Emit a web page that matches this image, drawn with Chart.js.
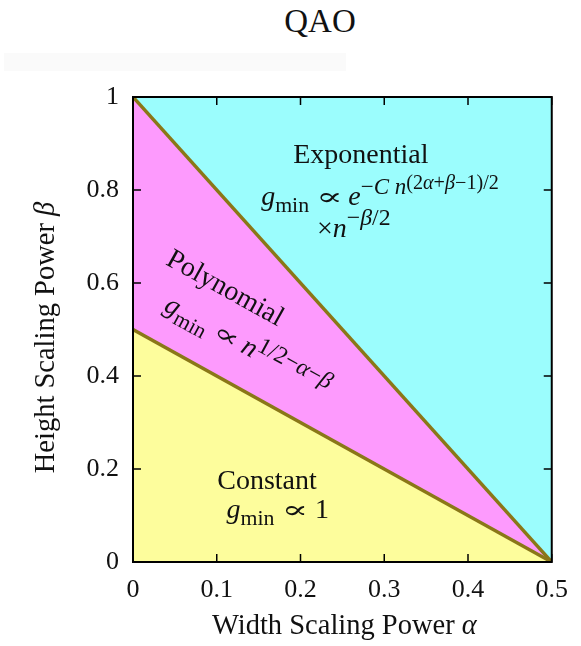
<!DOCTYPE html>
<html>
<head>
<meta charset="utf-8">
<script src="https://cdn.jsdelivr.net/npm/chart.js@4.4.1/dist/chart.umd.min.js"></script>
<style>
  html, body { margin: 0; padding: 0; background: #fff; }
  #wrap { position: relative; width: 581px; height: 646px; }
  #title { position: absolute; left: 220px; width: 200px; top: 3px; text-align: center;
           font-family: "Liberation Serif", serif; font-size: 33px; color: #111; }
  #band { position: absolute; left: 4px; top: 53px; width: 342px; height: 18px; background: rgba(0,0,0,0.018); }
  canvas { position: absolute; left: 0; top: 0; }
</style>
</head>
<body>
<div id="wrap">
  <div id="band"></div>
  <div id="title">QAO</div>
  <canvas id="c" width="581" height="646"></canvas>
</div>
<script>
// ---- data ----
const alphaPoints = [0, 0.5];               // width scaling power α at the boundary ends
const constPolyBoundary = [0.5, 0];         // β where constant meets polynomial
const polyExpBoundary = [1, 0];             // β where polynomial meets exponential
const topEdge = [1, 1];                     // top of the plotted range
const xTickValues = [0, 0.1, 0.2, 0.3, 0.4, 0.5];
const xTickLabels = ["0", "0.1", "0.2", "0.3", "0.4", "0.5"];
const yTickValues = [0, 0.2, 0.4, 0.6, 0.8, 1];
const yTickLabels = ["0", "0.2", "0.4", "0.6", "0.8", "1"];
const xAxisTitle = [["Width Scaling Power ", "r"], ["α", "i"]];
const yAxisTitle = [["Height Scaling Power ", "r"], ["β", "i"]];
const regionNames = ["Constant", "Polynomial", "Exponential"];

const FONT = '"Liberation Serif", "DejaVu Serif", serif';
const MATHFONT = '"DejaVu Serif", serif';
const colors = { cyan: "#9bfdfd", magenta: "#fd9afd", yellow: "#fdfd9c", line: "#8a7717" };

const pts = (ys) => alphaPoints.map((a, i) => ({ x: a, y: ys[i] }));

function fontOf(style, px) {
  if (style === "m") return px + "px " + MATHFONT;
  return (style === "i" ? "italic " : "") + px + "px " + FONT;
}

// segs: [text, style, scale, rise, xstretch]
function drawRich(ctx, segs, x, y, base, align) {
  let w = 0;
  const widths = segs.map(s => { ctx.font = fontOf(s[1], base * (s[2] || 1)); const m = ctx.measureText(s[0]).width * (s[4] || 1); w += m; return m; });
  let cx = align === "center" ? x - w / 2 : (align === "right" ? x - w : x);
  ctx.textBaseline = "alphabetic";
  ctx.textAlign = "left";
  segs.forEach((s, i) => {
    ctx.font = fontOf(s[1], base * (s[2] || 1));
    ctx.save();
    ctx.translate(cx, y - (s[3] || 0));
    ctx.scale(s[4] || 1, 1);
    ctx.fillText(s[0], 0, 0);
    ctx.restore();
    cx += widths[i];
  });
}

const PROP = ["∝", "m", 0.88, 0, 1.6];

// annotation positions in data coordinates
const annotations = [
  { x: 0.272, y: 0.858, size: 28, align: "center", angle: 0, segs: [[regionNames[2], "r"]] },
  { x: 0.153, y: 0.768, size: 28, align: "left", angle: 0, segs: [
      ["g", "i"], ["min", "r", 0.78, -7], [" ", "r"], PROP, [" ", "r", 0.8], ["e", "i"],
      ["−", "r", 0.82, 11], ["C", "i", 0.82, 11], [" ", "r", 0.82, 11], ["n", "i", 0.82, 11],
      ["(2", "r", 0.72, 16], ["α", "i", 0.72, 16], ["+", "r", 0.72, 16], ["β", "i", 0.72, 16], ["−1)/2", "r", 0.72, 16]] },
  { x: 0.2197, y: 0.699, size: 28, align: "left", angle: 0, segs: [
      ["×", "r"], ["n", "i"], ["−", "r", 0.85, 12], ["β", "i", 0.85, 12], ["/2", "r", 0.85, 12]] },
  { x: 0.038, y: 0.641, size: 28, align: "left", angle: 29, segs: [[regionNames[1], "r"]] },
  { x: 0.0356, y: 0.542, size: 28, align: "left", angle: 28.5, segs: [
      ["g", "i"], ["min", "r", 0.78, -7], [" ", "r"], PROP, [" ", "r", 0.8], ["n", "i"],
      ["1/2−", "r", 0.85, 9], ["α", "i", 0.85, 9], ["−", "r", 0.85, 9], ["β", "i", 0.85, 9]] },
  { x: 0.160, y: 0.157, size: 28, align: "center", angle: 0, segs: [[regionNames[0], "r"]] },
  { x: 0.1116, y: 0.0946, size: 28, align: "left", angle: 0, segs: [
      ["g", "i"], ["min", "r", 0.78, -7], [" ", "r"], PROP, [" 1", "r"]] }
];

const decor = {
  id: "decor",
  afterDatasetsDraw(chart) {
    const { ctx, chartArea: a, scales: { x, y } } = chart;
    ctx.save();
    ctx.fillStyle = "#111";
    annotations.forEach(an => {
      const px = x.getPixelForValue(an.x), py = y.getPixelForValue(an.y);
      ctx.save();
      ctx.translate(px, py);
      ctx.rotate(an.angle * Math.PI / 180);
      drawRich(ctx, an.segs, 0, 0, an.size, an.align);
      ctx.restore();
    });
    // frame
    ctx.strokeStyle = "#000";
    ctx.lineWidth = 2;
    ctx.strokeRect(a.left, a.top, a.right - a.left, a.bottom - a.top);
    // inward ticks on all four sides
    ctx.lineWidth = 1.5;
    const tl = 8;
    ctx.beginPath();
    xTickValues.forEach(v => {
      const p = x.getPixelForValue(v);
      ctx.moveTo(p, a.bottom); ctx.lineTo(p, a.bottom - tl);
      ctx.moveTo(p, a.top); ctx.lineTo(p, a.top + tl);
    });
    yTickValues.forEach(v => {
      const p = y.getPixelForValue(v);
      ctx.moveTo(a.left, p); ctx.lineTo(a.left + tl, p);
      ctx.moveTo(a.right, p); ctx.lineTo(a.right - tl, p);
    });
    ctx.stroke();
    // axis titles
    ctx.fillStyle = "#111";
    drawRich(ctx, xAxisTitle.map(s => [s[0], s[1]]), (a.left + a.right) / 2 + 2, 634, 28.5, "center");
    ctx.save();
    ctx.translate(54, (a.top + a.bottom) / 2 + 8);
    ctx.rotate(-Math.PI / 2);
    drawRich(ctx, yAxisTitle.map(s => [s[0], s[1]]), 0, 0, 28.5, "center");
    ctx.restore();
    ctx.restore();
  }
};

new Chart(document.getElementById("c"), {
  type: "line",
  data: {
    datasets: [
      { data: pts(constPolyBoundary), borderColor: colors.line, borderWidth: 3.5, backgroundColor: colors.yellow, fill: "origin", pointRadius: 0 },
      { data: pts(polyExpBoundary), borderColor: colors.line, borderWidth: 3.5, backgroundColor: colors.magenta, fill: "-1", pointRadius: 0 },
      { data: pts(topEdge), borderColor: "rgba(0,0,0,0)", borderWidth: 0, backgroundColor: colors.cyan, fill: "-1", pointRadius: 0 }
    ]
  },
  options: {
    responsive: false,
    animation: false,
    layout: { padding: { left: 0, right: 27, top: 97, bottom: 0 } },
    plugins: { legend: { display: false }, tooltip: { enabled: false }, title: { display: false } },
    scales: {
      x: {
        type: "linear", min: 0, max: 0.5,
        afterBuildTicks: s => { s.ticks = xTickValues.map(v => ({ value: v })); },
        afterFit: s => { s.height = 84; },
        grid: { display: false, drawTicks: false },
        border: { display: false },
        ticks: { padding: 13, color: "#111", font: { family: FONT, size: 26 }, maxRotation: 0,
                 callback: (v, i) => xTickLabels[i] }
      },
      y: {
        type: "linear", min: 0, max: 1,
        afterBuildTicks: s => { s.ticks = yTickValues.map(v => ({ value: v })); },
        afterFit: s => { s.width = 133; },
        grid: { display: false, drawTicks: false },
        border: { display: false },
        ticks: { padding: 14, color: "#111", font: { family: FONT, size: 26 },
                 callback: (v, i) => yTickLabels[i] }
      }
    }
  },
  plugins: [decor]
});
</script>
</body>
</html>
